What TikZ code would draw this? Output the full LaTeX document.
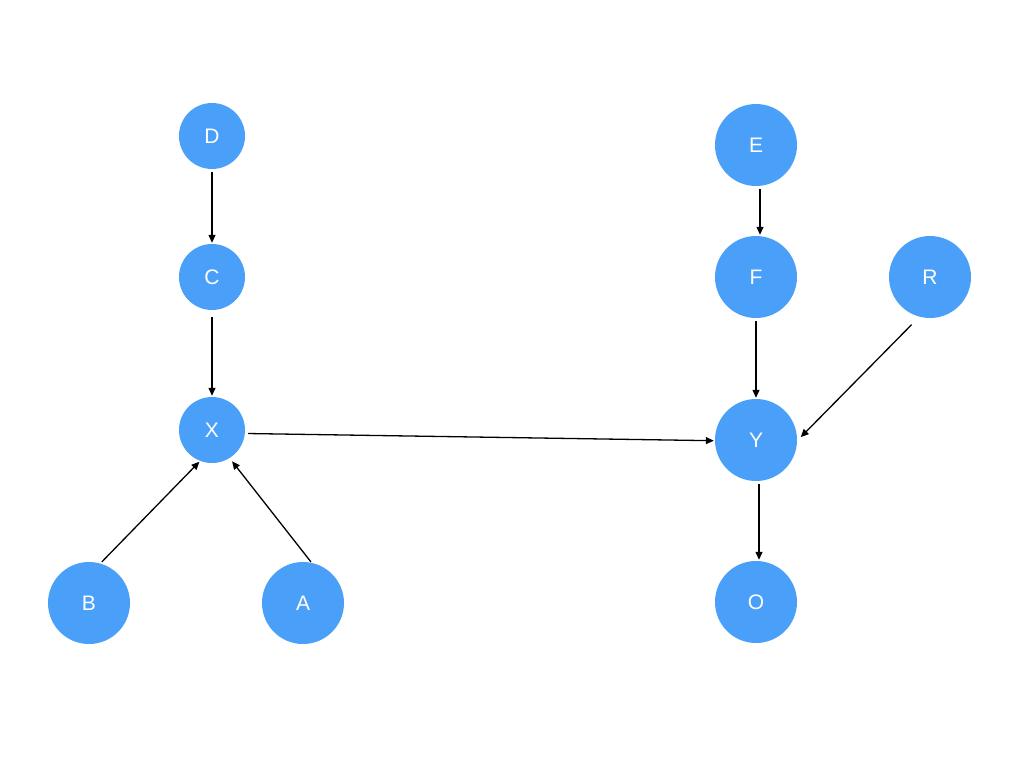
\documentclass[tikz,border=0pt]{standalone}
\usepackage{fontspec}
\setmainfont{Liberation Sans}
\usetikzlibrary{arrows.meta}
\definecolor{nodeblue}{HTML}{4A9FF8}
\begin{document}
\begin{tikzpicture}[x=1pt,y=-1pt,
  small/.style={circle,fill=nodeblue,draw=none,minimum size=66pt,inner sep=0pt,text=white,font=\fontsize{21}{21}\selectfont},
  big/.style={circle,fill=nodeblue,draw=none,minimum size=82pt,inner sep=0pt,text=white,font=\fontsize{21}{21}\selectfont},
  edge/.style={-{Triangle[length=8pt,width=7pt]},line width=1.3pt,black,shorten <=3pt,shorten >=1pt}]
\useasboundingbox[fill=white] (0,0) rectangle (1024,768);
\node[small] (D) at (212,136) {D};
\node[small] (C) at (212,277) {C};
\node[small] (X) at (212,430) {X};
\node[big] (B) at (89,603) {B};
\node[big] (A) at (303,603) {A};
\node[big] (E) at (756,145) {E};
\node[big] (F) at (756,277) {F};
\node[big] (R) at (930,277) {R};
\node[big] (Y) at (756,440) {Y};
\node[big] (O) at (756,602) {O};
\draw[edge] (D) -- (C);
\draw[edge,shorten <=7pt] (C) -- (X);
\draw[edge] (X.-6) -- (Y.181);
\draw[edge,shorten <=2pt] (B.74) -- (X.249);
\draw[edge,shorten <=1pt,shorten >=4pt] (A.78) -- (X.302);
\draw[edge] ([xshift=4pt]E.south) -- ([xshift=4pt]F.north);
\draw[edge] (F) -- (Y);
\draw[edge,shorten <=11pt,shorten >=5pt] (R.255) -- (Y.-1);
\draw[edge] ([xshift=3pt]Y.south) -- ([xshift=3pt]O.north);
\end{tikzpicture}
\end{document}
